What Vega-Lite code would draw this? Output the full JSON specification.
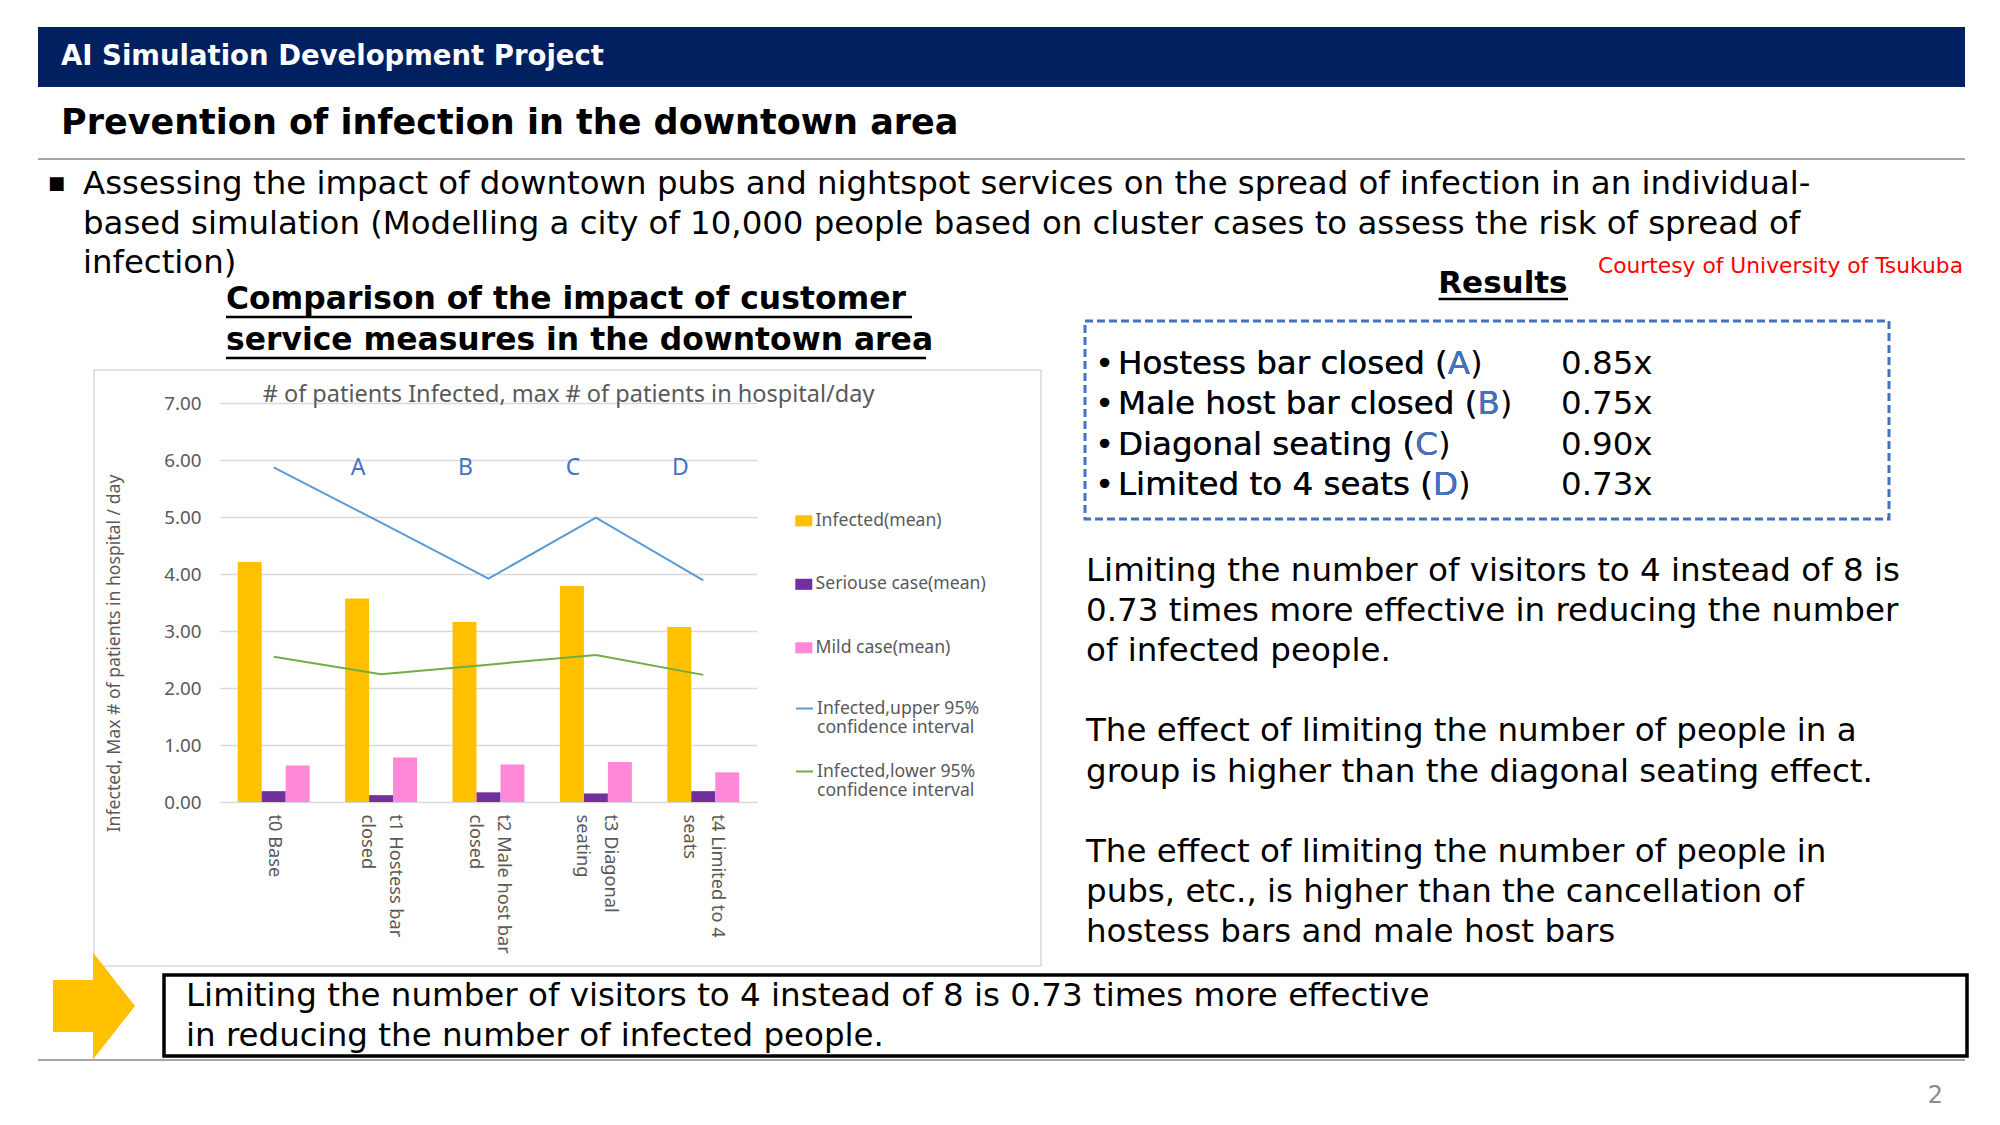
{
  "$schema": "https://vega.github.io/schema/vega-lite/v6.json",
  "padding": {"left": 37, "top": 27, "right": 36, "bottom": 0},
  "background": "white",
  "config": {"view": {"stroke": null}, "text": {"font": "DejaVu Sans"}},
  "datasets": {
    "bars": [
      {"scenario": "t0 Base", "series": "Infected(mean)", "value": 4.21},
      {"scenario": "t0 Base", "series": "Seriouse case(mean)", "value": 0.19},
      {"scenario": "t0 Base", "series": "Mild case(mean)", "value": 0.64},
      {"scenario": "t1 Hostess bar|closed", "series": "Infected(mean)", "value": 3.57},
      {"scenario": "t1 Hostess bar|closed", "series": "Seriouse case(mean)", "value": 0.12},
      {"scenario": "t1 Hostess bar|closed", "series": "Mild case(mean)", "value": 0.78},
      {"scenario": "t2 Male host bar|closed", "series": "Infected(mean)", "value": 3.16},
      {"scenario": "t2 Male host bar|closed", "series": "Seriouse case(mean)", "value": 0.17},
      {"scenario": "t2 Male host bar|closed", "series": "Mild case(mean)", "value": 0.66},
      {"scenario": "t3 Diagonal|seating", "series": "Infected(mean)", "value": 3.79},
      {"scenario": "t3 Diagonal|seating", "series": "Seriouse case(mean)", "value": 0.15},
      {"scenario": "t3 Diagonal|seating", "series": "Mild case(mean)", "value": 0.70},
      {"scenario": "t4 Limited to 4|seats", "series": "Infected(mean)", "value": 3.07},
      {"scenario": "t4 Limited to 4|seats", "series": "Seriouse case(mean)", "value": 0.19},
      {"scenario": "t4 Limited to 4|seats", "series": "Mild case(mean)", "value": 0.52}
    ],
    "ci": [
      {"scenario": "t0 Base", "ci": "Infected,upper 95%|confidence interval", "value": 5.87},
      {"scenario": "t1 Hostess bar|closed", "ci": "Infected,upper 95%|confidence interval", "value": 4.90},
      {"scenario": "t2 Male host bar|closed", "ci": "Infected,upper 95%|confidence interval", "value": 3.92},
      {"scenario": "t3 Diagonal|seating", "ci": "Infected,upper 95%|confidence interval", "value": 4.99},
      {"scenario": "t4 Limited to 4|seats", "ci": "Infected,upper 95%|confidence interval", "value": 3.89},
      {"scenario": "t0 Base", "ci": "Infected,lower 95%|confidence interval", "value": 2.55},
      {"scenario": "t1 Hostess bar|closed", "ci": "Infected,lower 95%|confidence interval", "value": 2.24},
      {"scenario": "t2 Male host bar|closed", "ci": "Infected,lower 95%|confidence interval", "value": 2.41},
      {"scenario": "t3 Diagonal|seating", "ci": "Infected,lower 95%|confidence interval", "value": 2.58},
      {"scenario": "t4 Limited to 4|seats", "ci": "Infected,lower 95%|confidence interval", "value": 2.23}
    ],
    "letters": [
      {"scenario": "t1 Hostess bar|closed", "letter": "A"},
      {"scenario": "t2 Male host bar|closed", "letter": "B"},
      {"scenario": "t3 Diagonal|seating", "letter": "C"},
      {"scenario": "t4 Limited to 4|seats", "letter": "D"}
    ]
  },
  "spacing": 0,
  "bounds": "flush",
  "vconcat": [
    {
      "width": 1927, "height": 60,
      "view": {"fill": "#002060", "stroke": null},
      "data": {"values": [{"text": "AI Simulation Development Project"}]},
      "mark": {"type": "text", "align": "left", "baseline": "middle", "dx": 23, "font": "DejaVu Sans", "fontWeight": "bold", "fontSize": 27.5, "fill": "white"},
      "encoding": {
        "x": {"datum": 0, "type": "quantitative", "scale": {"domain": [0, 1]}, "axis": null},
        "text": {"field": "text"}
      }
    },
    {
      "width": 1927, "height": 72,
      "data": {"values": [{"text": "Prevention of infection in the downtown area"}]},
      "layer": [
        {
          "mark": {"type": "text", "align": "left", "baseline": "middle", "dx": 23, "fontWeight": "bold", "fontSize": 35, "fill": "#000000"},
          "encoding": {
            "x": {"datum": 0, "type": "quantitative", "scale": {"domain": [0, 1]}, "axis": null},
            "text": {"field": "text"}
          }
        },
        {
          "mark": {"type": "rule", "stroke": "#a6a6a6", "strokeWidth": 2},
          "encoding": {"y": {"datum": 0, "type": "quantitative", "scale": {"domain": [0, 1]}, "axis": null}}
        }
      ]
    },
    {
      "width": 1927, "height": 129,
      "encoding": {
        "x": {"datum": 0, "type": "quantitative", "scale": {"domain": [0, 1]}, "axis": null},
        "y": {"field": "line", "type": "ordinal", "axis": null, "scale": {"type": "point", "padding": 0.633}}
      },
      "layer": [
        {
          "data": {"values": [
            {"line": 1, "bullet": "■", "text": "Assessing the impact of downtown pubs and nightspot services on the spread of infection in an individual-"},
            {"line": 2, "bullet": "", "text": "based simulation (Modelling a city of 10,000 people based on cluster cases to assess the risk of spread of"},
            {"line": 3, "bullet": "", "text": "infection)"}
          ]},
          "layer": [
            {
              "mark": {"type": "text", "align": "left", "baseline": "middle", "dx": 45, "fontSize": 32.4, "fill": "#000000"},
              "encoding": {"text": {"field": "text"}}
            },
            {
              "mark": {"type": "text", "align": "left", "baseline": "middle", "dx": 10, "fontSize": 18, "fill": "#000000"},
              "encoding": {"text": {"field": "bullet"}}
            }
          ]
        },
        {
          "data": {"values": [{"line": 3, "text": "Courtesy of University of Tsukuba"}]},
          "mark": {"type": "text", "align": "right", "baseline": "middle", "dx": -2, "dy": 3, "fontSize": 21.8, "fill": "#ff0000"},
          "encoding": {
            "x": {"datum": 1, "type": "quantitative"},
            "text": {"field": "text"}
          }
        },
        {
          "data": {"values": [{"line": 3, "text": "Results"}]},
          "layer": [
            {
              "mark": {"type": "text", "align": "center", "baseline": "middle", "dy": 21, "fontSize": 31, "fontWeight": "bold", "fill": "#000000"},
              "encoding": {
                "x": {"datum": 0.7602, "type": "quantitative"},
                "text": {"field": "text"}
              }
            },
            {
              "mark": {"type": "rule", "stroke": "#000000", "strokeWidth": 2.5, "yOffset": 36},
              "encoding": {
                "x": {"datum": 0.7268, "type": "quantitative"},
                "x2": {"datum": 0.7940}
              }
            }
          ]
        }
      ]
    },
    {
      "spacing": 0,
      "bounds": "flush",
      "hconcat": [
        {
          "spacing": 0,
          "bounds": "flush",
          "hconcat": [
            {
              "width": 56, "height": 1,
              "data": {"values": [{"t": ""}]},
              "mark": {"type": "text"},
              "encoding": {"text": {"field": "t"}}
            },
            {
              "spacing": 81,
              "bounds": "flush",
              "vconcat": [
                {
                  "width": 947, "height": 1,
                  "data": {"values": [{"t": ""}]},
                  "mark": {"type": "text"},
                  "encoding": {"text": {"field": "t"}}
                },
                {
                  "width": 947, "height": 596,
                  "view": {"stroke": "#d9d9d9", "strokeWidth": 1.5},
                  "data": {"values": [{"t": ""}]},
                  "mark": {"type": "text"},
                  "encoding": {"text": {"field": "t"}}
                }
              ]
            }
          ]
        },
        {
          "width": 182, "height": 1,
          "data": {"values": [{"t": ""}]},
          "mark": {"type": "text"},
          "encoding": {"text": {"field": "t"}}
        },
        {
          "spacing": 0,
          "bounds": "flush",
          "vconcat": [
            {
              "width": 537, "height": 115,
              "data": {"values": [
                {"line": 1, "text": "Comparison of the impact of customer"},
                {"line": 2, "text": "service measures in the downtown area"}
              ]},
              "encoding": {
                "x": {"datum": 0, "type": "quantitative", "scale": {"domain": [0, 1]}, "axis": null},
                "y": {"field": "line", "type": "ordinal", "axis": null, "scale": {"type": "point", "padding": 0.902, "align": 0.162}}
              },
              "layer": [
                {
                  "mark": {"type": "text", "align": "left", "baseline": "middle", "dx": 6, "fontWeight": "bold", "fontSize": 31.4, "fill": "#000000"},
                  "encoding": {"text": {"field": "text"}}
                },
                {
                  "transform": [{"filter": "datum.line == 1"}],
                  "mark": {"type": "rule", "stroke": "#000000", "strokeWidth": 2.5, "yOffset": 17, "xOffset": 6},
                  "encoding": {"x2": {"datum": 1.2886}}
                },
                {
                  "transform": [{"filter": "datum.line == 2"}],
                  "mark": {"type": "rule", "stroke": "#000000", "strokeWidth": 2.5, "yOffset": 17, "xOffset": 6},
                  "encoding": {"x2": {"datum": 1.3147}}
                }
              ]
            },
            {
              "width": 537, "height": 399,
              "title": {"text": "# of patients Infected, max # of patients in hospital/day", "font": "Noto Sans", "fontSize": 23.5, "fontWeight": "normal", "color": "#595959", "anchor": "middle", "dx": 80, "offset": -12},
              "layer": [
                {
                  "data": {"name": "bars"},
                  "mark": {"type": "bar"},
                  "encoding": {
                    "x": {"field": "scenario", "type": "nominal",
                      "scale": {"domain": ["t0 Base", "t1 Hostess bar|closed", "t2 Male host bar|closed", "t3 Diagonal|seating", "t4 Limited to 4|seats"], "paddingInner": 0.33, "paddingOuter": 0.165},
                      "axis": {"title": null, "labelAngle": 90, "labelExpr": "split(datum.label, '|')", "labelFont": "Noto Sans", "labelFontSize": 18.2, "labelColor": "#595959", "labelPadding": 12, "labelLineHeight": 28, "labelOffset": {"condition": {"test": "datum.value == 't0 Base'", "value": 0}, "value": 14}, "ticks": false, "domain": true, "domainColor": "#d9d9d9", "labelLimit": 0}},
                    "xOffset": {"field": "series", "type": "nominal", "sort": ["Infected(mean)", "Seriouse case(mean)", "Mild case(mean)"], "scale": {"paddingInner": 0, "paddingOuter": 0}},
                    "y": {"field": "value", "type": "quantitative",
                      "scale": {"domain": [0, 7]},
                      "axis": {"values": [0, 1, 2, 3, 4, 5, 6, 7], "format": ".2f", "title": "Infected, Max # of patients in hospital / day", "titleFont": "Noto Sans", "titleFontSize": 17.6, "titleFontWeight": "normal", "titleColor": "#595959", "titlePadding": 40, "titleY": 250, "labelFont": "Noto Sans", "labelFontSize": 18.8, "labelColor": "#595959", "labelPadding": 19, "ticks": false, "domain": false, "grid": true, "gridColor": "#d9d9d9", "gridWidth": 1.3}},
                    "fill": {"field": "series", "type": "nominal",
                      "scale": {"domain": ["Infected(mean)", "Seriouse case(mean)", "Mild case(mean)"], "range": ["#ffc000", "#7030a0", "#ff88d8"]},
                      "legend": {"title": null, "orient": "none", "legendX": 757, "legendY": 485, "padding": 0, "symbolType": "M-1,-0.65L1,-0.65L1,0.65L-1,0.65Z", "symbolSize": 289, "symbolStrokeWidth": 0, "labelOffset": 3, "labelLimit": 0, "labelFont": "Noto Sans", "labelFontSize": 17.6, "labelColor": "#595959", "rowPadding": 44.5}}
                  }
                },
                {
                  "data": {"name": "ci"},
                  "mark": {"type": "line", "strokeWidth": 2},
                  "encoding": {
                    "x": {"field": "scenario", "type": "nominal"},
                    "y": {"field": "value", "type": "quantitative"},
                    "stroke": {"field": "ci", "type": "nominal",
                      "scale": {"domain": ["Infected,upper 95%|confidence interval", "Infected,lower 95%|confidence interval"], "range": ["#5b9bd5", "#70ad47"]},
                      "legend": {"title": null, "orient": "none", "legendX": 757, "legendY": 672, "padding": 0, "symbolType": "stroke", "symbolSize": 289, "symbolStrokeWidth": 2, "labelOffset": 3, "labelLimit": 0, "labelExpr": "split(datum.label, '|')", "labelFont": "Noto Sans", "labelFontSize": 17.6, "labelColor": "#595959", "rowPadding": 25}}
                  }
                },
                {
                  "data": {"name": "letters"},
                  "mark": {"type": "text", "font": "Noto Sans", "fontSize": 23, "fill": "#4472c4", "baseline": "middle", "align": "center", "dx": -23},
                  "encoding": {
                    "x": {"field": "scenario", "type": "nominal"},
                    "y": {"datum": 5.86, "type": "quantitative"},
                    "text": {"field": "letter"}
                  }
                }
              ]
            }
          ]
        },
        {
          "width": 865, "height": 1,
          "data": {"values": [{"t": ""}]},
          "mark": {"type": "text"},
          "encoding": {"text": {"field": "t"}}
        },
        {
          "spacing": 32,
          "bounds": "flush",
          "vconcat": [
            {
              "width": 880, "height": 1,
              "data": {"values": [{"t": ""}]},
              "mark": {"type": "text"},
              "encoding": {"text": {"field": "t"}}
            },
            {
              "width": 804, "height": 198,
              "view": {"stroke": "#4472c4", "strokeDash": [8, 4], "strokeWidth": 3},
              "data": {"values": [
                {"line": 1, "full": "Hostess bar closed (A)", "withLetter": "Hostess bar closed (A", "prefix": "Hostess bar closed (", "value": "0.85x"},
                {"line": 2, "full": "Male host bar closed (B)", "withLetter": "Male host bar closed (B", "prefix": "Male host bar closed (", "value": "0.75x"},
                {"line": 3, "full": "Diagonal seating (C)", "withLetter": "Diagonal seating (C", "prefix": "Diagonal seating (", "value": "0.90x"},
                {"line": 4, "full": "Limited to 4 seats (D)", "withLetter": "Limited to 4 seats (D", "prefix": "Limited to 4 seats (", "value": "0.73x"}
              ]},
              "encoding": {
                "x": {"datum": 0, "type": "quantitative", "scale": {"domain": [0, 1]}, "axis": null},
                "y": {"field": "line", "type": "ordinal", "axis": null, "scale": {"type": "point", "padding": 0.957, "align": 0.558}}
              },
              "layer": [
                {"mark": {"type": "text", "align": "left", "baseline": "middle", "dx": 10, "fontSize": 32.5, "fill": "#000000", "text": "•"}},
                {"mark": {"type": "text", "align": "left", "baseline": "middle", "dx": 33, "fontSize": 32.5, "fill": "#000000"}, "encoding": {"text": {"field": "full"}}},
                {"mark": {"type": "text", "align": "left", "baseline": "middle", "dx": 33, "fontSize": 32.5, "fill": "#4472c4"}, "encoding": {"text": {"field": "withLetter"}}},
                {"mark": {"type": "text", "align": "left", "baseline": "middle", "dx": 33, "fontSize": 32.5, "fill": "#000000"}, "encoding": {"text": {"field": "prefix"}}},
                {"mark": {"type": "text", "align": "left", "baseline": "middle", "dx": 476, "fontSize": 32.5, "fill": "#000000"}, "encoding": {"text": {"field": "value"}}}
              ]
            },
            {
              "width": 880, "height": 401,
              "data": {"values": [
                {"line": 1, "text": "Limiting the number of visitors to 4 instead of 8 is"},
                {"line": 2, "text": "0.73 times more effective in reducing the number"},
                {"line": 3, "text": "of infected people."},
                {"line": 4, "text": ""},
                {"line": 5, "text": "The effect of limiting the number of people in a"},
                {"line": 6, "text": "group is higher than the diagonal seating effect."},
                {"line": 7, "text": ""},
                {"line": 8, "text": "The effect of limiting the number of people in"},
                {"line": 9, "text": "pubs, etc., is higher than the cancellation of"},
                {"line": 10, "text": "hostess bars and male host bars"}
              ]},
              "mark": {"type": "text", "align": "left", "baseline": "middle", "dx": 1, "fontSize": 32.5, "fill": "#000000"},
              "encoding": {
                "x": {"datum": 0, "type": "quantitative", "scale": {"domain": [0, 1]}, "axis": null},
                "y": {"field": "line", "type": "ordinal", "axis": null, "scale": {"type": "point", "padding": 0.5}},
                "text": {"field": "text"}
              }
            }
          ]
        }
      ]
    },
    {
      "width": 1, "height": 664,
      "data": {"values": [{"t": ""}]},
      "mark": {"type": "text"},
      "encoding": {"text": {"field": "t"}}
    },
    {
      "spacing": 14,
      "bounds": "flush",
      "hconcat": [
        {
          "width": 112, "height": 108,
          "data": {"values": [{"kind": "arrow"}]},
          "mark": {"type": "point", "shape": "M-0.766,-0.486L-0.019,-0.486L-0.019,-1L0.766,0L-0.019,1L-0.019,0.486L-0.766,0.486Z", "size": 11449, "filled": true, "fill": "#ffc000", "strokeWidth": 0, "opacity": 1},
          "encoding": {}
        },
        {
          "spacing": 22,
          "bounds": "flush",
          "vconcat": [
            {
              "width": 1803, "height": 1,
              "data": {"values": [{"t": ""}]},
              "mark": {"type": "text"},
              "encoding": {"text": {"field": "t"}}
            },
            {
              "width": 1803, "height": 81,
              "view": {"stroke": "#000000", "strokeWidth": 3.5},
              "data": {"values": [
                {"line": 1, "text": "Limiting the number of visitors to 4 instead of 8 is 0.73 times more effective"},
                {"line": 2, "text": "in reducing the number of infected people."}
              ]},
              "mark": {"type": "text", "align": "left", "baseline": "middle", "dx": 22, "fontSize": 32.5, "fill": "#000000"},
              "encoding": {
                "x": {"datum": 0, "type": "quantitative", "scale": {"domain": [0, 1]}, "axis": null},
                "y": {"field": "line", "type": "ordinal", "axis": null, "scale": {"type": "point", "padding": 0.5125}},
                "text": {"field": "text"}
              }
            }
          ]
        }
      ]
    },
    {
      "width": 1, "height": 108,
      "data": {"values": [{"t": ""}]},
      "mark": {"type": "text"},
      "encoding": {"text": {"field": "t"}}
    },
    {
      "width": 1927, "height": 64,
      "data": {"values": [{"page": "2"}]},
      "layer": [
        {
          "mark": {"type": "rule", "stroke": "#a6a6a6", "strokeWidth": 2},
          "encoding": {"y": {"datum": 1, "type": "quantitative", "scale": {"domain": [0, 1]}, "axis": null}}
        },
        {
          "mark": {"type": "text", "align": "right", "baseline": "middle", "dx": -22, "dy": 4, "fontSize": 24, "fill": "#8c8c8c"},
          "encoding": {
            "x": {"datum": 1, "type": "quantitative", "scale": {"domain": [0, 1]}, "axis": null},
            "text": {"field": "page"}
          }
        }
      ]
    }
  ]
}
